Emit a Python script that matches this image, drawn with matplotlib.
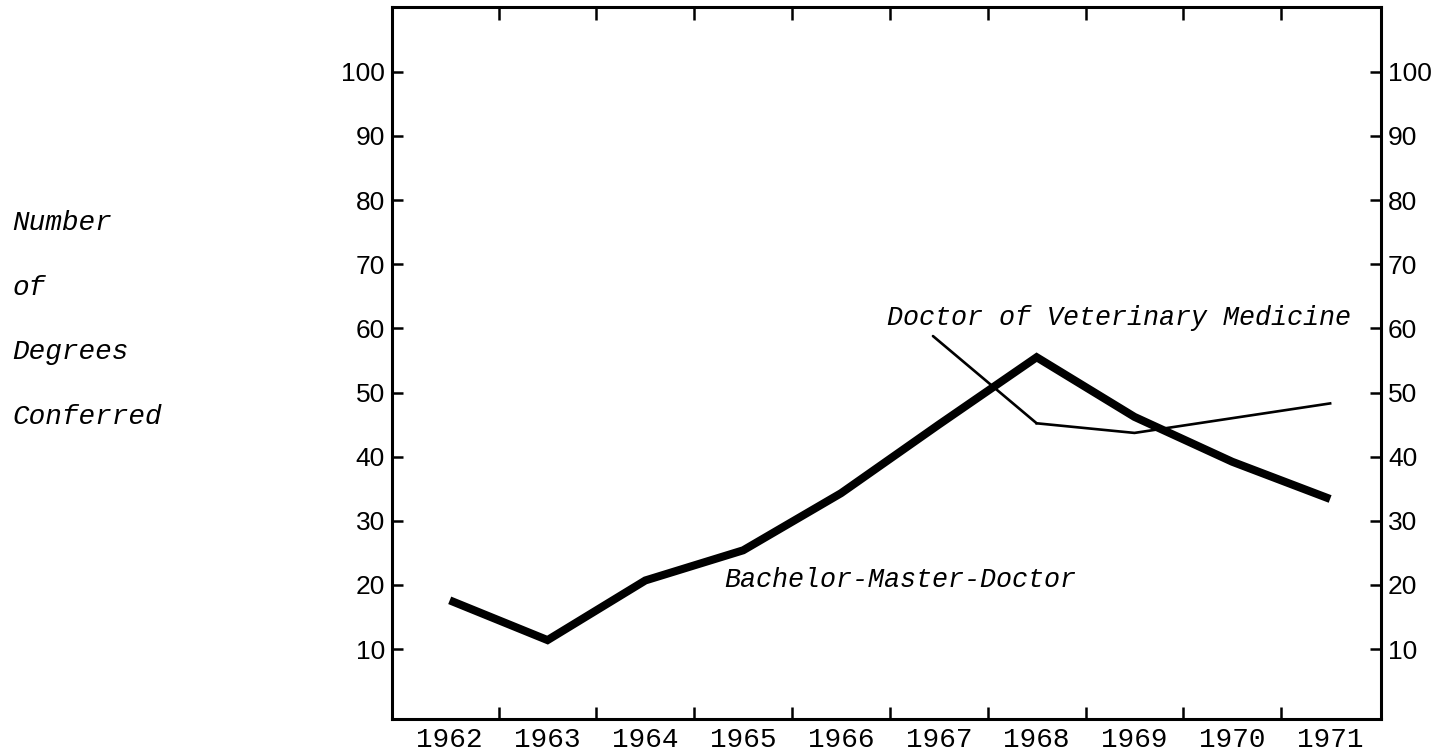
import matplotlib
matplotlib.use("Agg")
import matplotlib.pyplot as plt
from matplotlib.ticker import FixedLocator

# ---- data ----
years = [1962, 1963, 1964, 1965, 1966, 1967, 1968, 1969, 1970, 1971]
bmd_values = [17.6, 11.4, 20.7, 25.4, 34.3, 45.0, 55.5, 46.2, 39.2, 33.4]
dvm_years = [1968, 1969, 1970, 1971]
dvm_values = [45.2, 43.7, 46.0, 48.3]
y_ticks = [10, 20, 30, 40, 50, 60, 70, 80, 90, 100]
side_label_lines = ["Number", "of", "Degrees", "Conferred"]
bmd_label = "Bachelor-Master-Doctor"
dvm_label = "Doctor of Veterinary Medicine"

mono = ["Liberation Mono", "DejaVu Sans Mono"]
sans = ["Liberation Sans", "DejaVu Sans"]

fig = plt.figure(figsize=(14.49, 7.56), dpi=100)
ax = fig.add_axes([392 / 1449, 1 - 719 / 756, (1381 - 392) / 1449, (719 - 7) / 756])

ax.plot(years, bmd_values, color="black", lw=5.8, solid_joinstyle="miter",
        solid_capstyle="butt")
ax.plot(dvm_years, dvm_values, color="black", lw=1.9, solid_joinstyle="miter")

ax.set_xlim(1961.41, 1971.52)
ax.set_ylim(-0.9, 110.1)

for s in ax.spines.values():
    s.set_linewidth(2.2)
    s.set_color("black")

# x: labels at years (no tick marks), tick marks between years
ax.set_xticks(years)
ax.set_xticklabels([str(y) for y in years], fontfamily=mono, fontsize=20)
ax.xaxis.set_minor_locator(FixedLocator([y + 0.5 for y in years[:-1]]))
ax.tick_params(axis="x", which="major", length=0, pad=6)
ax.tick_params(axis="x", which="minor", direction="in", length=9, width=1.8,
               top=True, bottom=True)

# y: labels on both sides, inward ticks
ax.set_yticks(y_ticks)
ax.set_yticklabels([str(v) for v in y_ticks], fontfamily=sans, fontsize=19)
ax.tick_params(axis="y", which="major", direction="in", length=8, width=1.8,
               left=True, right=True, labelleft=True, labelright=True, pad=5)
for t in ax.yaxis.get_major_ticks():
    t.label2.set_fontfamily(sans)
    t.label2.set_fontsize(19)

# series labels
ax.text(1964.81, 20.7, bmd_label, fontfamily=mono, fontstyle="italic",
        fontsize=19.3, va="center", ha="left")
ax.text(1966.47, 61.6, dvm_label, fontfamily=mono, fontstyle="italic",
        fontsize=19.3, va="center", ha="left")
ax.annotate("", xy=(dvm_years[0], dvm_values[0]), xytext=(1966.94, 58.8),
            arrowprops=dict(arrowstyle="-", color="black", lw=1.9,
                            shrinkA=0, shrinkB=0))

# side label
for i, line in enumerate(side_label_lines):
    fig.text(12 / 1449, 1 - (223 + i * 64.7) / 756, line, fontfamily=mono,
             fontstyle="italic", fontsize=20, va="center", ha="left")

fig.savefig("out.png", dpi=100)
